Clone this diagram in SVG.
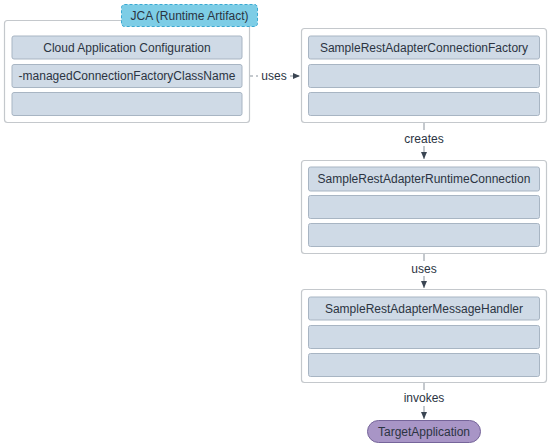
<svg xmlns="http://www.w3.org/2000/svg" width="551" height="447" viewBox="0 0 551 447">
<style>
.outer{fill:#ffffff;stroke:#c4c8cc;stroke-width:1.2}
.row{fill:#cfdae6;stroke:#a8b5c3;stroke-width:1}
.t{font-family:"Liberation Sans",Arial,sans-serif;font-size:12px;fill:#2b3442;text-anchor:middle}
.ln{stroke:#8a939c;stroke-width:1;fill:none}
.dash{stroke:#8a939c;stroke-width:1;fill:none;stroke-dasharray:3,3}
</style>
<defs>
<marker id="ah" markerWidth="8" markerHeight="8" refX="7" refY="4" orient="auto" markerUnits="userSpaceOnUse">
<path d="M0,1 L7,4 L0,7 Z" fill="#3a4552"/>
</marker>
</defs>
<rect width="551" height="447" fill="#ffffff"/>
<g id="connectors">
<line class="dash" x1="250" y1="76" x2="258" y2="76"/>
<line class="dash" x1="290" y1="76" x2="300" y2="76" marker-end="url(#ah)"/>
<text class="t" x="274" y="80">uses</text>
<line class="ln" x1="424" y1="122" x2="424" y2="130"/>
<line class="ln" x1="424" y1="146" x2="424" y2="159" marker-end="url(#ah)"/>
<text class="t" x="424" y="143">creates</text>
<line class="ln" x1="424" y1="253" x2="424" y2="261"/>
<line class="ln" x1="424" y1="276" x2="424" y2="288" marker-end="url(#ah)"/>
<text class="t" x="424" y="273">uses</text>
<line class="ln" x1="424" y1="383" x2="424" y2="390"/>
<line class="ln" x1="424" y1="406" x2="424" y2="419" marker-end="url(#ah)"/>
<text class="t" x="424" y="402">invokes</text>
</g>
<g id="jca">
<rect class="outer" x="4.5" y="20.5" width="245" height="102" rx="3"/>
<rect class="row" x="12" y="36" width="230" height="23" rx="2"/>
<text class="t" x="127" y="52">Cloud Application Configuration</text>
<rect class="row" x="12" y="64.5" width="230" height="23" rx="2"/>
<text class="t" x="127" y="80">-managedConnectionFactoryClassName</text>
<rect class="row" x="12" y="92.5" width="230" height="23" rx="2"/>
<rect x="121.5" y="4.5" width="136" height="22" rx="3" fill="#7dcde6" stroke="#3aa9d2" stroke-width="1" stroke-dasharray="3,2"/>
<text class="t" x="189.5" y="20">JCA (Runtime Artifact)</text>
</g>
<g id="connectionFactory">
<rect class="outer" x="301.5" y="28.5" width="245" height="94" rx="3"/>
<rect class="row" x="308.5" y="36" width="231" height="23" rx="2"/>
<text class="t" x="424" y="52">SampleRestAdapterConnectionFactory</text>
<rect class="row" x="308.5" y="64.5" width="231" height="23" rx="2"/>
<rect class="row" x="308.5" y="92.5" width="231" height="23" rx="2"/>
</g>
<g id="runtimeConnection">
<rect class="outer" x="301.5" y="160.5" width="245" height="93" rx="3"/>
<rect class="row" x="308.5" y="167" width="231" height="24" rx="2"/>
<text class="t" x="424" y="183">SampleRestAdapterRuntimeConnection</text>
<rect class="row" x="308.5" y="195.5" width="231" height="23" rx="2"/>
<rect class="row" x="308.5" y="223.5" width="231" height="23" rx="2"/>
</g>
<g id="messageHandler">
<rect class="outer" x="301.5" y="289.5" width="245" height="93" rx="3"/>
<rect class="row" x="308.5" y="297" width="231" height="23" rx="2"/>
<text class="t" x="424" y="313">SampleRestAdapterMessageHandler</text>
<rect class="row" x="308.5" y="325.5" width="231" height="23" rx="2"/>
<rect class="row" x="308.5" y="353.5" width="231" height="23" rx="2"/>
</g>
<g id="targetApplication">
<rect x="367.5" y="420.5" width="113" height="22" rx="11" fill="#a895c6" stroke="#76659a" stroke-width="1"/>
<text class="t" x="424" y="436">TargetApplication</text>
</g>
</svg>
